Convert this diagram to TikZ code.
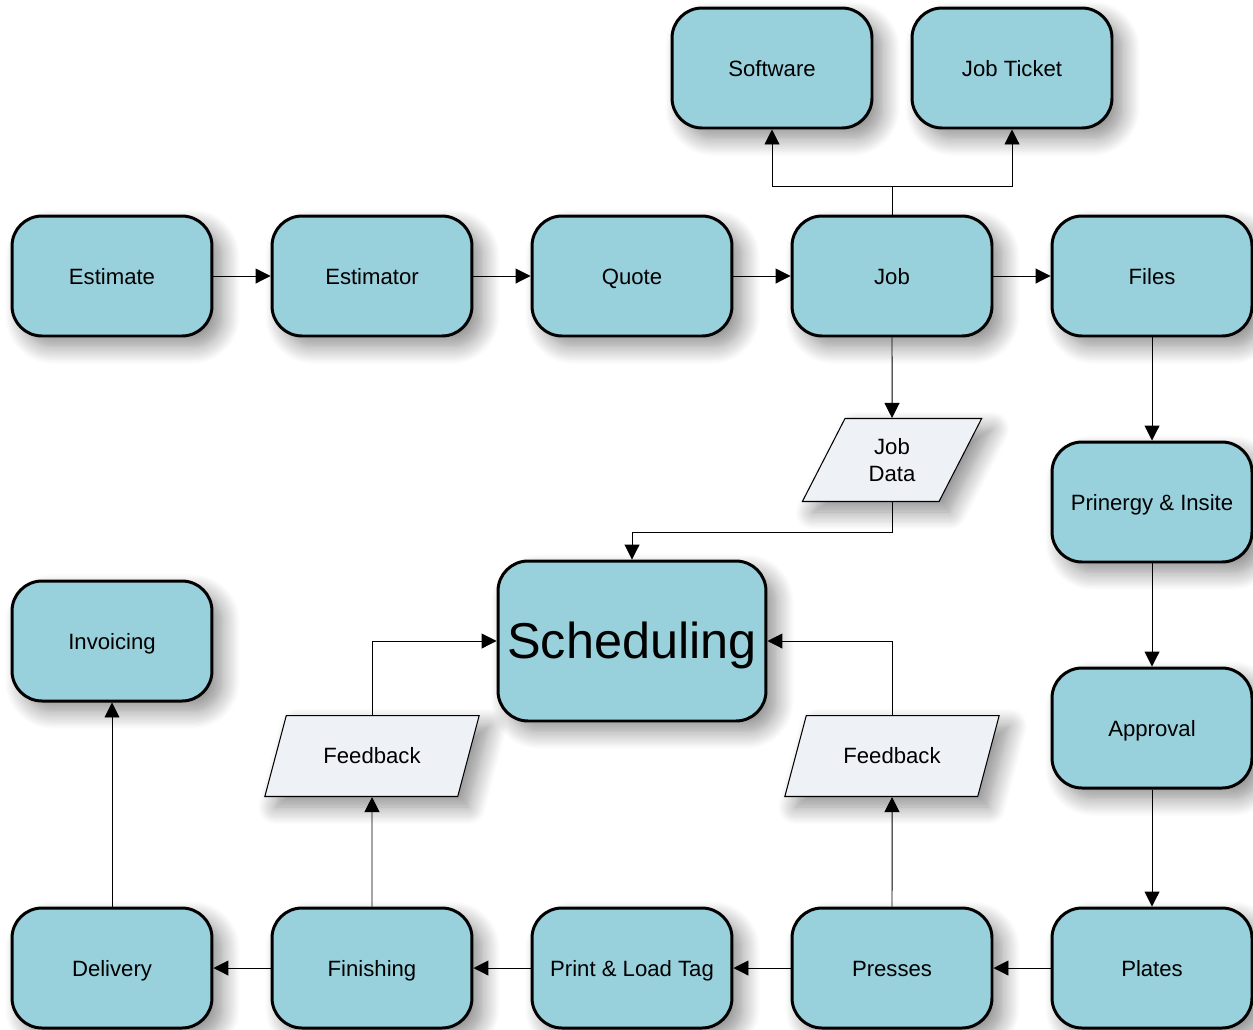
\documentclass[tikz,border=0pt]{standalone}
\usepackage{fontspec}
\setmainfont{Liberation Sans}
\usetikzlibrary{shapes.geometric,arrows.meta,shadows.blur}
\definecolor{boxfill}{HTML}{98D0DC}
\definecolor{datafill}{HTML}{EEF1F6}
\tikzset{
  softshadow/.style={blur shadow={shadow xshift=6pt, shadow yshift=-6pt, shadow blur radius=10pt, shadow blur steps=14, shadow opacity=45}},
  proc/.style={draw=black, line width=1.7pt, fill=boxfill, rounded corners=0.6cm,
    minimum width=4cm, minimum height=2.4cm, align=center,
    text height=11pt, text depth=1pt,
    font=\fontsize{12.6}{15}\selectfont, softshadow},
  data/.style={trapezium, trapezium left angle=64, trapezium right angle=116,
    trapezium stretches=true, draw=black, line width=0.6pt, fill=datafill,
    minimum width=3.6cm, minimum height=1.66cm, align=center,
    font=\fontsize{12.6}{15}\selectfont, softshadow},
  link/.style={-{Triangle[length=3mm,width=3mm]}, line width=0.55pt},
}
\begin{document}
\begin{tikzpicture}[x=0.02cm, y=-0.02cm]
  \useasboundingbox (0,0) rectangle (1253,1029);

  % fila de arriba
  \foreach \x/\n/\t in {112/est/Estimate, 372/estr/Estimator, 632/quote/Quote,
      892/job/Job, 1152/files/Files} {
    \node[proc] (\n) at (\x,276) {\t};
  }
  \node[proc] (soft) at (772,68) {Software};
  \node[proc] (ticket) at (1012,68) {Job Ticket};

  % columna derecha
  \node[proc] (prin) at (1152,502) {Prinergy \& Insite};
  \node[proc] (appr) at (1152,728) {Approval};

  % fila de abajo
  \foreach \x/\n/\t in {1152/plates/Plates, 892/presses/Presses,
      632/tag/Print \& Load Tag, 372/finish/Finishing, 112/deliv/Delivery} {
    \node[proc] (\n) at (\x,968) {\t};
  }
  \node[proc] (invoice) at (112,641) {Invoicing};

  % centro
  \node[proc, minimum width=5.36cm, minimum height=3.2cm, text height=23.5pt, text depth=3.5pt,
    font=\fontsize{28.7}{34}\selectfont] (sched) at (632,641) {Scheduling};
  \node[data] (jobdata) at (892,460) {Job\\Data};
  \node[data, minimum width=4.32cm, minimum height=1.62cm] (fbl) at (372,756) {Feedback};
  \node[data, minimum width=4.32cm, minimum height=1.62cm] (fbr) at (892,756) {Feedback};

  % flechas
  \draw[link] (est) -- (estr);
  \draw[link] (estr) -- (quote);
  \draw[link] (quote) -- (job);
  \draw[link] (job) -- (files);
  \coordinate (split) at (892,186);
  \draw[line width=0.55pt] (job.north) -- (split);
  \draw[link] (split) -| (soft.south);
  \draw[link] (split) -| (ticket.south);
  \draw[link] (job.south) -- (jobdata.north);
  \draw[link] (jobdata.south) -- ++(0,30) -| (sched.north);
  \draw[link] (files) -- (prin);
  \draw[link] (prin) -- (appr);
  \draw[link] (appr) -- (plates);
  \draw[link] (plates) -- (presses);
  \draw[link] (presses) -- (tag);
  \draw[link] (tag) -- (finish);
  \draw[link] (finish) -- (deliv);
  \draw[link] (deliv) -- (invoice);
  \draw[link] (finish.north) -- (fbl.south);
  \draw[link] (presses.north) -- (fbr.south);
  \draw[link] (fbl.north) |- (sched.west);
  \draw[link] (fbr.north) |- (sched.east);
\end{tikzpicture}
\end{document}
